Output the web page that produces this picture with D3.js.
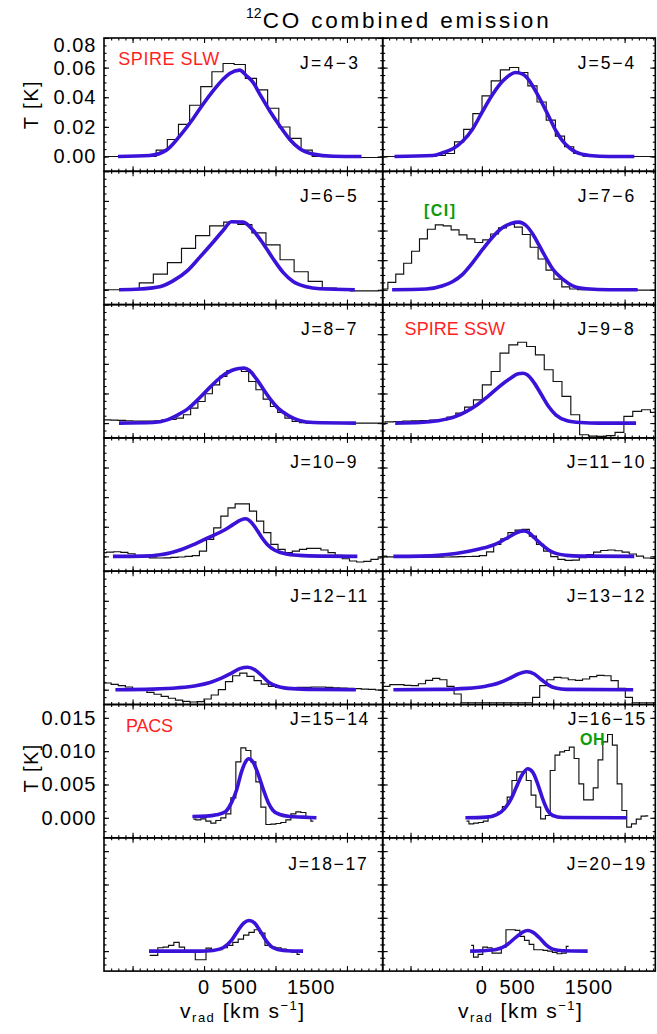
<!DOCTYPE html>
<html>
<head>
<meta charset="utf-8">
<script src="https://cdn.jsdelivr.net/npm/d3@7"></script>
<style>
  body { margin: 0; background: #fff; }
  svg { display: block; }
  text { font-family: "Liberation Sans", Arial, Helvetica, sans-serif; }
</style>
</head>
<body>
<svg id="chart" width="657" height="1034"></svg>
<script>
// ---------------- data ----------------
const transitions = ["J=4-3", "J=5-4", "J=6-5", "J=7-6", "J=8-7", "J=9-8", "J=10-9",
                     "J=11-10", "J=12-11", "J=13-12", "J=15-14", "J=16-15", "J=18-17", "J=20-19"];

// observed spectra: first channel velocity (km/s), channel width (km/s), brightness T (K)
const histStart = [-1528, -1476, -1596, -1483.8, -1456.5, -1420, -1415, -1385, -1450, -1440, -150, -215, -760, -150];
const histStep  = [156, 128.5, 197, 110.8, 101.5, 124, 100, 100, 100, 100, 70, 67, 75, 65];

const obs43 = [0, 0, 0, 0, 0, 0, 0.0043, 0.0115, 0.0217, 0.0346, 0.0472, 0.0572, 0.0628, 0.0621, 0.0527,
  0.0450, 0.0326, 0.0199, 0.0122, 0.0043, 0, 0, -0.0005, -0.0007, -0.0007, -0.0007, -0.0007];
const obs54 = [0, 0, 0, 0, 0, 0, 0, 0.0007, 0.002, 0.0099, 0.0183, 0.0289, 0.0409, 0.0511, 0.0585, 0.0601,
  0.0567, 0.0477, 0.0368, 0.0246, 0.0138, 0.0066, 0.002, 0.0002, 0, 0, 0, 0, 0, 0, 0, 0];
const obs65 = [0, 0, 0, 0, 0.0047, 0.0106, 0.0183, 0.028, 0.0366, 0.0432, 0.0457, 0.0441, 0.0384, 0.0303,
  0.0203, 0.0122, 0.0057, 0.0011, -0.0005, -0.0007, -0.0007, -0.0006];
const obs76 = [0.0005, 0.0005, 0.005, 0.0106, 0.0179, 0.026, 0.0344, 0.0409, 0.0438, 0.0432, 0.0405, 0.0371,
  0.0344, 0.0319, 0.0337, 0.0377, 0.0418, 0.0441, 0.0423, 0.0373, 0.0287, 0.0208, 0.0133, 0.0072, 0.002,
  0.0005, 0, 0, -0.0002, -0.0002, -0.0002, -0.0002, -0.0002, -0.0002, -0.0002, -0.0002, -0.0002];
const obs87 = [0.0022, 0.0022, 0.002, 0.0018, 0.0016, 0.0014, 0.0013, 0.0013, 0.0015, 0.002, 0.0025,
  0.0034, 0.0056, 0.0101, 0.0146, 0.0198, 0.0258, 0.0315, 0.0355, 0.0366, 0.0348, 0.0281, 0.0225, 0.0162,
  0.0112, 0.0072, 0.0034, 0.0011, 0.0003, 0, 0, 0, 0, 0, 0, 0, 0, 0, 0, 0];
const obs98 = [-0.0007, 0.0008, 0.0011, 0.0013, 0.0015, 0.0017, 0.002, 0.0022, 0.004, 0.0067, 0.0108,
  0.0157, 0.0258, 0.0348, 0.0472, 0.0528, 0.0546, 0.0517, 0.0461, 0.036, 0.0281, 0.018, 0.0056, -0.0079,
  -0.0088, -0.009, -0.0085, -0.0063, 0.0045, 0.0079, 0.009, 0.0072, 0.006];
const obs109 = [0.0025, 0.0029, 0.0031, 0.0027, 0.0018, 0.0006, -0.0003, -0.001, -0.0011, -0.001, -0.0007,
  -0.0004, 0, 0.0005, 0.0036, 0.0115, 0.0193, 0.0272, 0.0328, 0.0355, 0.0355, 0.0306, 0.0238, 0.016, 0.0081,
  0.0047, 0.0025, 0.0036, 0.0047, 0.0054, 0.0054, 0.0043, 0.0025, 0.0007, -0.0016, -0.0031, -0.0038,
  -0.0034, -0.002, -0.0011];
const obs1110 = [0.0002, -0.0003, -0.0004, -0.0005, -0.0005, -0.0005, -0.0006, -0.0006, -0.0005, -0.0004,
  -0.0003, -0.0002, -0.0001, 0, 0.0005, 0.003, 0.008, 0.0119, 0.016, 0.0177, 0.0182, 0.0137, 0.0081, 0.0036,
  -0.0002, -0.002, -0.0027, -0.0025, -0.0009, 0.0013, 0.0029, 0.004, 0.0043, 0.0038, 0.0029, 0.0016, 0.0002,
  -0.0011, -0.0013, -0.0012];
const obs1211 = [0.0054, 0.0045, 0.0036, 0.0027, 0.0018, 0.0007, -0.0004, -0.0018, -0.0031, -0.0045, -0.0058,
  -0.007, -0.0079, -0.0083, -0.0081, -0.0063, -0.0036, 0, 0.0054, 0.0094, 0.0112, 0.009, 0.0061, 0.0038,
  0.0022, 0.0016, 0.0013, 0.0013, 0.0016, 0.0016, 0.0018, 0.0018, 0.0016, 0.0013, 0.0011, 0.0009, 0.0007,
  0.0004, 0.0002, -0.0002, -0.0003];
const obs1312 = [0, 0.0022, 0.0034, 0.0034, 0.0029, 0.0027, 0.004, 0.0063, 0.0076, 0.0067, 0.0022, -0.0029,
  -0.0088, -0.0088, -0.0088, -0.0088, -0.0088, -0.0088, -0.0088, -0.0088, -0.0088, -0.0088, -0.0052, 0.0027,
  0.0067, 0.0083, 0.0079, 0.0067, 0.0063, 0.0072, 0.0088, 0.0097, 0.0094, 0.0061, 0.0009, -0.0052, -0.0088,
  -0.0088, -0.0088, -0.0088];
const obs1514 = [-0.0002, -0.0003, -0.00015, -0.0005, -0.0008, -0.0004, 0, 0.0006, 0.003, 0.0084, 0.0105,
  0.0101, 0.0084, 0.0054, 0.0016, -0.001, -0.00095, -0.00085, -0.0007, -0.0003, 0.0006, 0.0009, 0.0008, 0,
  -0.0005];
const obs1615 = [-0.0005, -0.0009, -0.0008, -0.0007, -0.0005, 0.0001, 0.00035, 0.00085, 0.0017, 0.0031,
  0.0056, 0.0069, 0.0069, 0.0056, 0.0034, 0.0016, -0.00015, 0.00035, 0.0071, 0.0094, 0.0099, 0.0101, 0.0106,
  0.0089, 0.0051, 0.0027, 0.0027, 0.0045, 0.0087, 0.0114, 0.0125, 0.0109, 0.0051, 0.0011, -0.0014, -0.0009,
  -0.0002, 0.00025, 0.0003];
const obs1817 = [-0.00065, -0.00065, 0.0005, 0.0006, 0.00085, 0.0013, 0.0006, 0, 0, -0.0013, -0.0013, 0.00045,
  0.0002, 0.0002, 0.0005, 0.00085, 0.0013, 0.0018, 0.0024, 0.0028, 0.0032, 0.0027, 0.00085, 0.0006, 0.0005,
  0.0003, 0.0001, -0.00015, -0.0005];
const obs2019 = [0.00085, -0.0009, -0.0005, 0.0006, 0.0005, -0.0003, -0.0003, 0.0006, 0.0032, 0.0032, 0.0031,
  0.0022, 0.0016, 0.001, 0.0002, 0.0002, 0.0001, 0, -0.0002, -0.0004, -0.0003, 0.0007];

const observed = [obs43, obs54, obs65, obs76, obs87, obs98, obs109, obs1110, obs1211, obs1312,
                  obs1514, obs1615, obs1817, obs2019];

// fitted line profiles: [velocity (km/s), T (K)]
const fit43 = [[-1204, 0], [-761, 0.0007], [-527, 0.0043], [-341, 0.0138], [-154, 0.0255], [-14, 0.0353],
  [126, 0.0443], [266, 0.0522], [359, 0.0561], [499, 0.0583], [593, 0.0545], [686, 0.05], [780, 0.0421],
  [920, 0.0307], [1060, 0.0206], [1200, 0.0115], [1340, 0.0052], [1526, 0.0016], [1806, 0.0002], [2203, 0]];
const fit54 = [[-1225, 0], [-688, 0.0007], [-548, 0.0025], [-407, 0.0052], [-267, 0.0104], [-127, 0.0188],
  [12, 0.0307], [152, 0.042], [292, 0.0509], [386, 0.0549], [470, 0.0567], [572, 0.0556], [666, 0.0511],
  [759, 0.0436], [853, 0.0352], [946, 0.0262], [1039, 0.0172], [1133, 0.0104], [1226, 0.0059],
  [1319, 0.0029], [1506, 0.0007], [1786, 0], [2136, 0]];
const fit65 = [[-1190, 0], [-901, 0.0005], [-621, 0.002], [-434, 0.006], [-224, 0.0133], [-61, 0.0219],
  [126, 0.0321], [266, 0.04], [383, 0.0459], [546, 0.0457], [686, 0.0402], [826, 0.0312], [966, 0.021],
  [1106, 0.0118], [1246, 0.0056], [1433, 0.002], [1620, 0.0007], [2110, 0]];
const fit76 = [[-1258, 0], [-781, 0.0005], [-548, 0.0027], [-407, 0.0056], [-267, 0.0106], [-127, 0.0185],
  [12, 0.0274], [152, 0.0357], [292, 0.042], [409, 0.0448], [516, 0.0457], [619, 0.0434], [712, 0.0377],
  [805, 0.0298], [899, 0.0215], [992, 0.014], [1132, 0.0072], [1272, 0.0027], [1459, 0.0007], [1786, 0],
  [2183, 0]];
const fit87 = [[-1190, 0], [-715, 0.0004], [-515, 0.0022], [-365, 0.0056], [-215, 0.0101], [-65, 0.0169],
  [85, 0.0243], [235, 0.031], [385, 0.0355], [485, 0.0369], [560, 0.0371], [635, 0.0355], [735, 0.0297],
  [835, 0.0225], [935, 0.0157], [1035, 0.0101], [1185, 0.0049], [1335, 0.0018], [1535, 0.0004], [2125, 0]];
const fit98 = [[-1215, 0], [-865, 0.0004], [-615, 0.0016], [-365, 0.0045], [-215, 0.0079], [-65, 0.0124],
  [85, 0.018], [235, 0.0243], [385, 0.0297], [510, 0.0333], [575, 0.0337], [635, 0.0326], [735, 0.027],
  [835, 0.0191], [935, 0.0112], [1035, 0.0056], [1185, 0.0018], [1385, 0.0004], [1635, 0], [2160, 0]];
const fit109 = [[-1275, 0], [-865, 0.0002], [-615, 0.0011], [-465, 0.0025], [-315, 0.0047], [-165, 0.0076],
  [-15, 0.011], [135, 0.0142], [285, 0.0178], [410, 0.0216], [510, 0.0245], [585, 0.0254], [660, 0.0231],
  [735, 0.0182], [810, 0.0126], [885, 0.0081], [985, 0.0043], [1135, 0.0018], [1335, 0.0007],
  [1635, 0.0002], [2145, 0]];
const fit1110 = [[-1240, 0], [-865, 0.0002], [-615, 0.0007], [-365, 0.002], [-165, 0.0036], [35, 0.0058],
  [185, 0.0081], [335, 0.0119], [460, 0.0153], [535, 0.0169], [585, 0.0171], [660, 0.016], [735, 0.0126],
  [835, 0.0081], [935, 0.0043], [1035, 0.002], [1185, 0.0007], [1385, 0.0002], [2135, 0]];
const fit1211 = [[-1240, 0], [-715, 0.0004], [-365, 0.0013], [-115, 0.0027], [85, 0.0049], [235, 0.0076],
  [385, 0.0112], [510, 0.0144], [610, 0.0151], [710, 0.0135], [810, 0.0094], [910, 0.0049], [1035, 0.0022],
  [1235, 0.0007], [1535, 0.0002], [2125, 0]];
const fit1312 = [[-1240, 0], [-615, 0.0002], [-215, 0.0009], [35, 0.0022], [235, 0.0045], [385, 0.0076],
  [510, 0.0106], [625, 0.0121], [735, 0.0106], [835, 0.0067], [935, 0.0031], [1035, 0.0011],
  [1185, 0.0002], [2120, 0]];
const fit1514 = [[-163, 0.0002], [33, 0.00025], [173, 0.00045], [303, 0.00095], [387, 0.00235],
  [453, 0.0041], [523, 0.00685], [579, 0.00835], [626, 0.00885], [686, 0.00835], [756, 0.0066],
  [826, 0.00435], [896, 0.00235], [966, 0.0011], [1060, 0.0005], [1200, 0.0002], [1386, 0.0001], [1573, 0]];
const fit1615 = [[-231, 0], [59, 0.0001], [199, 0.00045], [316, 0.00135], [409, 0.00285], [479, 0.0045],
  [558, 0.00635], [642, 0.00735], [712, 0.00685], [782, 0.0051], [852, 0.00285], [922, 0.0011],
  [992, 0.00035], [1132, 0.00005], [2029, 0]];
const fit1817 = [[-770, 0], [-61, 0], [126, 0.0001], [266, 0.0005], [383, 0.0016], [476, 0.0031],
  [555, 0.0042], [630, 0.0046], [709, 0.0042], [780, 0.0031], [873, 0.0015], [966, 0.0005],
  [1106, 0.0001], [1386, 0]];
const fit2019 = [[-165, 0], [59, 0.0001], [199, 0.00025], [339, 0.00085], [479, 0.0021], [572, 0.00285],
  [642, 0.0031], [712, 0.00285], [806, 0.002], [899, 0.00095], [992, 0.0003], [1132, 0.00005], [1482, 0]];

const fits = [fit43, fit54, fit65, fit76, fit87, fit98, fit109, fit1110, fit1211, fit1312,
              fit1514, fit1615, fit1817, fit2019];

// axis ticks
const velMajor = [-1000, 0, 1000, 2000];
const velLabels = [0, 500, 1500];
const spireTicks = [0, 0.02, 0.04, 0.06, 0.08];
const pacsTicks = [0, 0.005, 0.010, 0.015];

// annotations: [panel index, text]
const instruments = [[0, "SPIRE SLW"], [5, "SPIRE SSW"], [10, "PACS"]];
const features = [[3, "[CI]"], [11, "OH"]];

// ---------------- layout ----------------
const W = 657, H = 1034;
const rowTop0 = 38, rowH = 133.3;
const colLeft = [104, 382.7], colRight = [382.7, 655.3];
const colDomain = [[-1400, 2500], [-1390, 2430]];
const spireDomain = [-0.01, 0.08], pacsDomain = [-0.003, 0.017];
const fitColor = "#3a12d8";

// transition label placement: [x start, width, baseline offset from row top]
const labelPos = [
  [300, 58, 31], [577.7, 56.6, 31], [300, 56.7, 31], [577.7, 56.6, 31], [301, 55.5, 30.5], [577.4, 56.4, 30.5],
  [290.3, 66.2, 30], [566.8, 77.6, 30], [290.3, 77, 30.5], [566.8, 77.6, 30.5], [290, 78.3, 20.5],
  [567.7, 77.6, 20.5], [288.3, 78.4, 32], [566.7, 78.6, 32]];
const instrumentPos = {0: [118.3, 101, 26.5], 5: [404.6, 100.4, 30.5], 10: [126, 47, 27]};
const featurePos = {3: [424, 31, 45], 11: [580, 24.5, 40.5]};

const svg = d3.select("#chart");
svg.append("rect").attr("width", W).attr("height", H).attr("fill", "#fff");

const defs = svg.append("defs");
[0, 1].forEach(c => {
  defs.append("clipPath").attr("id", "colclip" + c)
    .append("rect").attr("x", colLeft[c]).attr("y", 0)
    .attr("width", colRight[c] - colLeft[c]).attr("height", H);
});

const range = (a, b, s) => d3.range(Math.round(a / s), Math.round(b / s) + 1).map(k => +(k * s).toFixed(6));

transitions.forEach((name, i) => {
  const r = Math.floor(i / 2), c = i % 2;
  const top = rowTop0 + r * rowH, bottom = top + rowH;
  const left = colLeft[c], right = colRight[c];
  const pacs = r >= 5;
  const x = d3.scaleLinear().domain(colDomain[c]).range([left, right]);
  const y = d3.scaleLinear().domain(pacs ? pacsDomain : spireDomain).range([bottom, top]);
  const g = svg.append("g");

  // ticks on all four sides, pointing inward
  const xMinor = range(colDomain[c][0], colDomain[c][1], 100).filter(v => v > colDomain[c][0] && v < colDomain[c][1]);
  const yd = pacs ? pacsDomain : spireDomain;
  const yMinor = range(yd[0], yd[1], pacs ? 0.001 : 0.005).filter(v => v > yd[0] && v < yd[1]);
  const yMajor = pacs ? pacsTicks : spireTicks;
  const tickStyle = sel => {
    sel.select(".domain").remove();
    sel.selectAll("line").attr("stroke", "#000").attr("stroke-width", 1.1);
  };
  const addAxis = (axis, tx, ty) => g.append("g").attr("transform", `translate(${tx},${ty})`).call(axis).call(tickStyle);
  addAxis(d3.axisBottom(x).tickValues(xMinor).tickSize(-2.5).tickFormat(""), 0, bottom);
  addAxis(d3.axisBottom(x).tickValues(velMajor).tickSize(-5).tickFormat(""), 0, bottom);
  addAxis(d3.axisTop(x).tickValues(xMinor).tickSize(-2.5).tickFormat(""), 0, top);
  addAxis(d3.axisTop(x).tickValues(velMajor).tickSize(-5).tickFormat(""), 0, top);
  addAxis(d3.axisLeft(y).tickValues(yMinor).tickSize(-2.5).tickFormat(""), left, 0);
  addAxis(d3.axisLeft(y).tickValues(yMajor).tickSize(-5).tickFormat(""), left, 0);
  addAxis(d3.axisRight(y).tickValues(yMinor).tickSize(-2.5).tickFormat(""), right, 0);
  addAxis(d3.axisRight(y).tickValues(yMajor).tickSize(-5).tickFormat(""), right, 0);

  // observed spectrum (histogram style)
  const obs = observed[i].map((t, k) => [histStart[i] + k * histStep[i], t]);
  g.append("path")
    .attr("clip-path", `url(#colclip${c})`)
    .attr("d", d3.line().x(d => x(d[0])).y(d => y(d[1])).curve(d3.curveStep)(obs))
    .attr("fill", "none").attr("stroke", "#111").attr("stroke-width", 1.15);

  // fitted profile
  g.append("path")
    .attr("d", d3.line().x(d => x(d[0])).y(d => y(d[1])).curve(d3.curveMonotoneX)(fits[i]))
    .attr("fill", "none").attr("stroke", fitColor).attr("stroke-width", 3.6)
    .attr("stroke-linejoin", "round");

  // frame
  g.append("rect").attr("x", left).attr("y", top).attr("width", right - left).attr("height", rowH)
    .attr("fill", "none").attr("stroke", "#000").attr("stroke-width", 1.6);

  // transition label
  const lp = labelPos[i];
  g.append("text").attr("x", lp[0]).attr("y", top + lp[2])
    .attr("font-size", 17.5).attr("fill", "#000")
    .attr("textLength", lp[1]).attr("lengthAdjust", "spacing")
    .text(name.replace(/-/g, "\u2212"));

  // y tick labels on the first panel of each instrument block
  if (c === 0 && (r === 0 || r === 5)) {
    const fmt = pacs ? d3.format(".3f") : d3.format(".2f");
    yMajor.forEach(v => {
      const shift = (!pacs && v === 0.08) ? 7 : 0;
      g.append("text").attr("x", left - 7.5).attr("y", y(v) + shift).attr("dy", "0.35em")
        .attr("text-anchor", "end").attr("font-size", 20).attr("letter-spacing", 1)
        .text(fmt(v));
    });
    const mid = pacs ? y(0.0075) : (top + bottom) / 2;
    g.append("text").attr("transform", `translate(38,${mid}) rotate(-90)`)
      .attr("text-anchor", "middle").attr("font-size", 20).attr("letter-spacing", 1.5)
      .text("T [K]");
  }

  // velocity labels under the last row
  if (r === 6) {
    velLabels.forEach(v => {
      g.append("text").attr("x", x(v)).attr("y", bottom + 23)
        .attr("text-anchor", "middle").attr("font-size", 20).attr("letter-spacing", 1)
        .text(v);
    });
    const t = g.append("text").attr("x", x(0) - 24).attr("y", bottom + 47).attr("font-size", 21)
      .attr("textLength", 124).attr("lengthAdjust", "spacing");
    t.append("tspan").text("v");
    t.append("tspan").attr("font-size", 13).attr("dy", 4).text("rad");
    t.append("tspan").attr("dy", -4).text(" [km s");
    t.append("tspan").attr("font-size", 13).attr("dy", -8).text("\u22121");
    t.append("tspan").attr("dy", 8).text("]");
  }
});

// instrument names
instruments.forEach(([p, txt]) => {
  const r = Math.floor(p / 2), top = rowTop0 + r * rowH, pos = instrumentPos[p];
  svg.append("text").attr("x", pos[0]).attr("y", top + pos[2]).attr("font-size", 18)
    .attr("fill", "#ff1f1f").attr("textLength", pos[1]).attr("lengthAdjust", "spacing").text(txt);
});
// blended features
features.forEach(([p, txt]) => {
  const r = Math.floor(p / 2), top = rowTop0 + r * rowH, pos = featurePos[p];
  svg.append("text").attr("x", pos[0]).attr("y", top + pos[2]).attr("font-size", 16)
    .attr("font-weight", "bold").attr("fill", "#0a9a0a")
    .attr("textLength", pos[1]).attr("lengthAdjust", "spacing").text(txt);
});

// title
svg.append("text").attr("x", 246).attr("y", 18).attr("font-size", 14).text("12");
svg.append("text").attr("x", 262.7).attr("y", 28).attr("font-size", 22.5)
  .attr("textLength", 286).attr("lengthAdjust", "spacing").text("CO combined emission");
</script>
</body>
</html>
